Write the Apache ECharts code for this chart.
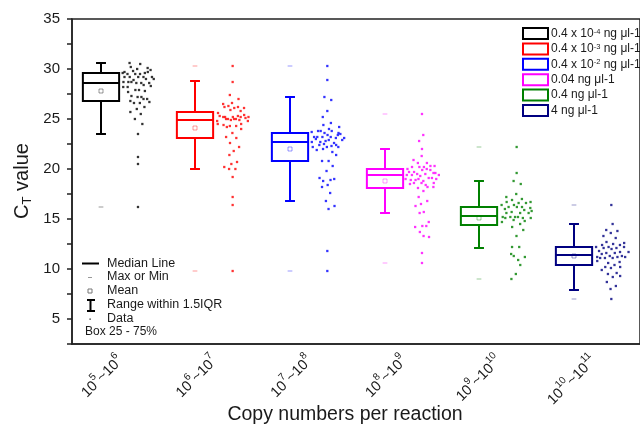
<!DOCTYPE html>
<html><head><meta charset="utf-8">
<script src="https://cdn.jsdelivr.net/npm/echarts@6/dist/echarts.min.js"></script>
<style>html,body{margin:0;padding:0;background:#fff}#c{width:640px;height:427px}</style>
</head><body><div id="c"></div>
<script>
const categories = ['10^5~10^6','10^6~10^7','10^7~10^8','10^8~10^9','10^9~10^10','10^10~10^11'];
const seriesNames = ['0.4 x 10-4 ng μl-1','0.4 x 10-3 ng μl-1','0.4 x 10-2 ng μl-1','0.04 ng μl-1','0.4 ng μl-1','4 ng μl-1'];
const legendLabels = ['0.4 x 10^-4 ng μl-1','0.4 x 10^-3 ng μl-1','0.4 x 10^-2 ng μl-1','0.04 ng μl-1','0.4 ng μl-1','4 ng μl-1'];
const colors = ['#000000','#ff0000','#0000ff','#ff00ff','#008000','#000080'];
const lightColors = ['rgba(0,0,0,0.4)','rgba(255,0,0,0.4)','rgba(0,0,255,0.4)','rgba(255,0,255,0.4)','rgba(0,128,0,0.4)','rgba(0,0,128,0.4)'];
const yTicks = [5,10,15,20,25,30,35];

// [lower whisker, Q1, median, Q3, upper whisker]
const boxStats = [
  [23.5, 26.8, 28.6, 29.6, 30.6],
  [20.0, 23.1, 24.9, 25.7, 28.8],
  [16.8, 20.8, 22.7, 23.6, 27.2],
  [15.6, 18.1, 19.4, 20.0, 22.0],
  [12.1, 14.4, 15.3, 16.2, 18.8],
  [7.9, 10.4, 11.4, 12.2, 14.5]
];
const means   = [27.8, 24.1, 22.0, 18.8, 15.1, 11.3];
const minVals = [16.2, 9.8, 9.8, 10.6, 9.0, 7.0];
const maxVals = [30.6, 30.3, 30.3, 25.5, 22.2, 16.4];

const data1 = [30.6,30.5,30.2,30.1,30.0,29.7,29.6,29.8,29.9,29.5,29.5,29.7,29.5,29.6,29.2,29.2,29.2,29.2,29.2,29.0,28.9,29.0,28.6,28.7,28.6,28.6,28.7,28.4,28.7,28.3,27.9,28.2,27.8,27.9,28.2,27.2,27.3,27.0,27.2,27.7,27.0,26.6,26.7,26.6,26.8,26.2,26.0,25.7,25.5,25.0,24.5,23.5,21.2,20.5,16.2];
const data2 = [30.3,28.7,27.4,27.0,26.6,26.5,26.2,26.3,26.1,26.1,26.2,25.8,25.9,25.6,25.3,25.2,25.1,25.2,25.3,25.2,25.0,25.2,25.0,25.2,25.4,24.9,24.8,24.9,25.0,24.8,25.0,24.4,24.5,24.3,24.5,24.3,24.2,24.0,23.6,23.2,23.1,22.6,22.2,21.8,21.4,20.7,20.5,20.2,20.0,20.0,19.2,17.2,16.4,9.8];
const data3 = [30.3,28.9,27.2,26.9,25.8,25.2,24.6,24.4,24.2,24.0,23.8,23.4,23.6,23.7,23.8,23.8,23.5,23.4,23.2,23.1,23.2,23.1,23.2,23.2,23.6,22.8,22.7,22.6,22.7,22.9,22.9,23.0,22.4,22.5,22.2,22.3,22.4,22.2,22.2,21.9,21.7,22.0,21.4,20.8,20.8,20.3,19.8,19.1,18.9,18.8,19.0,18.4,18.2,17.6,16.8,16.3,16.0,11.8,9.8];
const data4 = [25.5,23.4,22.8,22.0,21.3,20.9,20.6,20.6,20.3,20.2,20.2,20.3,20.2,20.0,20.0,19.7,19.6,19.9,19.7,19.9,19.5,19.4,19.5,19.4,19.6,19.3,19.4,19.1,18.9,19.0,18.8,18.9,19.1,19.0,19.0,18.4,18.6,18.6,18.6,18.5,18.2,18.1,18.2,17.8,17.2,16.8,16.5,16.3,15.7,15.6,14.7,14.3,14.2,14.3,13.7,13.2,13.3,11.6,10.6];
const data5 = [22.2,19.6,18.8,18.5,17.5,17.2,17.0,16.9,16.7,16.6,16.7,16.6,16.4,16.4,16.2,16.2,16.1,16.2,16.0,15.9,15.7,15.8,15.6,15.6,15.6,15.2,15.2,15.1,15.2,15.1,15.2,15.1,14.8,14.9,14.7,14.5,14.2,13.9,13.3,12.2,12.2,11.3,11.2,10.9,11.5,10.4,9.5,9.0];
const data6 = [16.4,14.5,13.9,13.8,13.6,13.3,13.1,12.7,12.6,12.5,12.4,12.4,12.2,12.2,12.1,12.1,12.2,12.0,11.8,11.7,11.6,11.7,11.6,11.5,11.3,11.3,11.2,11.2,11.1,11.2,11.1,11.1,10.7,10.6,10.8,10.4,10.2,10.2,10.1,9.9,9.6,9.5,9.3,9.2,8.7,8.3,8.0,7.0];
const allData = [data1, data2, data3, data4, data5, data6];

// layout constants (fractions of one category step)
const BOX_SHIFT = -0.197, PTS_SHIFT = 0.197, BOX_W = 0.383, CAP_W = 0.105, DASH_W = 0.05, SPREAD = 0.19;

function swarm(vals, center) {
  const dens = vals.map(v => vals.filter(w => Math.abs(w - v) <= 0.6).length);
  const dmax = Math.max.apply(null, dens);
  return vals.map((v, k) => {
    const f = dmax > 1 ? Math.max(0, (dens[k] - 1) / (dmax - 1)) : 0;
    const u = ((k * 0.6180339887) % 1) * 2 - 1;
    return [center + u * SPREAD * Math.pow(f, 0.4), v];
  });
}

function renderBox(ci) {
  return function (params, api) {
    const x = api.value(0);
    const unit = api.size([1, 0])[0];
    const bw = unit * BOX_W, cw = unit * CAP_W, dw = unit * DASH_W;
    const P = i => api.coord([x, api.value(i)]);
    const lo = P(1), q1 = P(2), md = P(3), q3 = P(4), hi = P(5), mean = P(6), mn = P(7), mx = P(8);
    const cx = Math.round(lo[0]);
    const c = colors[ci], lc = lightColors[ci];
    const ln = (x1, y1, x2, y2, col, w) => ({type: 'line', shape: {x1, y1, x2, y2}, style: {stroke: col, lineWidth: w}});
    return {type: 'group', children: [
      ln(cx, q3[1], cx, hi[1], c, 2),
      ln(cx - cw / 2, hi[1], cx + cw / 2, hi[1], c, 2),
      ln(cx, q1[1], cx, lo[1], c, 2),
      ln(cx - cw / 2, lo[1], cx + cw / 2, lo[1], c, 2),
      {type: 'rect', shape: {x: cx - bw / 2, y: q3[1], width: bw, height: q1[1] - q3[1]}, style: {fill: '#fff', stroke: c, lineWidth: 2}},
      ln(cx - bw / 2, md[1], cx + bw / 2, md[1], c, 2),
      {type: 'rect', shape: {x: cx - 2, y: mean[1] - 2, width: 4, height: 4}, style: {fill: 'none', stroke: lc, lineWidth: 1}},
      ln(cx - dw / 2, mn[1], cx + dw / 2, mn[1], lc, 1),
      ln(cx - dw / 2, mx[1], cx + dw / 2, mx[1], lc, 1)
    ]};
  };
}

const supRich = s => s.replace(/\^(-?\d+)/g, '{s|$1}');
const series = [];
seriesNames.forEach((name, i) => {
  series.push({
    type: 'custom', name, xAxisIndex: 1, yAxisIndex: 0,
    itemStyle: {color: '#fff', borderColor: colors[i], borderWidth: 2},
    renderItem: renderBox(i),
    encode: {x: 0, y: [1, 2, 3, 4, 5]},
    data: [[i + 1 + BOX_SHIFT].concat(boxStats[i], [means[i], minVals[i], maxVals[i]])],
    z: 2, silent: true
  });
});
seriesNames.forEach((name, i) => {
  series.push({
    type: 'scatter', name, xAxisIndex: 1, yAxisIndex: 0,
    symbol: 'rect', symbolSize: 2.3,
    itemStyle: {color: colors[i]},
    data: swarm(allData[i], i + 1 + PTS_SHIFT),
    z: 3, silent: true
  });
});

const FONT = 'Liberation Sans, Arial, sans-serif';
const TXT = '#1a1a1a';
const keyX = 107;
const key = [
  {type: 'line', shape: {x1: 82, y1: 263.5, x2: 99, y2: 263.5}, style: {stroke: '#000', lineWidth: 2}},
  {type: 'line', shape: {x1: 88, y1: 277.5, x2: 92, y2: 277.5}, style: {stroke: '#999', lineWidth: 1}},
  {type: 'rect', shape: {x: 88, y: 289, width: 4, height: 4}, style: {fill: 'none', stroke: '#777', lineWidth: 1}},
  {type: 'line', shape: {x1: 90.5, y1: 300, x2: 90.5, y2: 311}, style: {stroke: '#000', lineWidth: 2}},
  {type: 'line', shape: {x1: 87, y1: 300, x2: 95, y2: 300}, style: {stroke: '#000', lineWidth: 2}},
  {type: 'line', shape: {x1: 87, y1: 311, x2: 95, y2: 311}, style: {stroke: '#000', lineWidth: 2}},
  {type: 'rect', shape: {x: 89.5, y: 318.5, width: 1.2, height: 1.2}, style: {fill: '#000'}}
];
const keyTexts = [['Median Line', 263.5], ['Max or Min', 277], ['Mean', 291], ['Range within 1.5IQR', 305], ['Data', 319]];
keyTexts.forEach(t => key.push({type: 'text', x: keyX, y: t[1], style: {text: t[0], font: '12.5px ' + FONT, fill: TXT, verticalAlign: 'middle'}}));
key.push({type: 'text', x: 85, y: 332, style: {text: 'Box 25 - 75%', font: '12px ' + FONT, fill: TXT, verticalAlign: 'middle'}});
key.push({type: 'text', x: 345, y: 415, style: {text: 'Copy numbers per reaction', font: '19.5px ' + FONT, fill: TXT, align: 'center', verticalAlign: 'middle'}});
key.push({type: 'text', x: 22, y: 181, rotation: Math.PI / 2, style: {
  text: '{b|C}{t|T}{b| value}', fill: TXT, align: 'center', verticalAlign: 'middle',
  rich: {b: {fontSize: 20, fontFamily: FONT, lineHeight: 24, fill: TXT}, t: {fontSize: 13, fontFamily: FONT, lineHeight: 24, verticalAlign: 'bottom', fill: TXT}}
}});

const chart = echarts.init(document.getElementById('c'), null, {renderer: 'canvas'});
chart.setOption({
  animation: false,
  backgroundColor: '#fff',
  textStyle: {fontFamily: FONT},
  grid: {left: 72, top: 19, width: 580, height: 325, show: true, borderColor: '#222', borderWidth: 1.5, containLabel: false},
  legend: {
    orient: 'vertical', left: 522, top: 27, padding: 0, icon: 'rect', itemWidth: 25, itemHeight: 11, itemGap: 2.4,
    selectedMode: false,
    data: seriesNames.map((n, i) => ({name: n, itemStyle: {color: '#fff', borderColor: colors[i], borderWidth: 2}})),
    formatter: name => supRich(legendLabels[seriesNames.indexOf(name)]),
    textStyle: {fontSize: 12, color: TXT, fontFamily: FONT, lineHeight: 12, padding: [0, 0, 0, -2],
      rich: {s: {fontSize: 7.5, lineHeight: 12, verticalAlign: 'top', fontFamily: FONT, color: TXT}}}
  },
  xAxis: [
    {type: 'category', data: categories, boundaryGap: true, position: 'bottom',
      axisLine: {lineStyle: {color: '#222', width: 1.5}},
      axisTick: {alignWithLabel: true, length: 6, lineStyle: {color: '#222', width: 1.5}},
      axisLabel: {rotate: 45, margin: 13, color: TXT, fontSize: 14.5, interval: 0,
        formatter: v => v.replace(/\^(\d+)/g, '{s|$1}').replace(/^10/, '{n|10}').replace(/~10/, '{n|~10}'),
        rich: {n: {fontSize: 14.5, lineHeight: 19, verticalAlign: 'bottom', fontFamily: FONT, color: TXT},
               s: {fontSize: 10, lineHeight: 19, verticalAlign: 'top', fontFamily: FONT, color: TXT}}},
      splitLine: {show: false}},
    {type: 'value', min: 0.5, max: 6.5, show: false, splitLine: {show: false}}
  ],
  yAxis: {type: 'value', min: 2.5, max: 35, interval: 2.5,
    axisLine: {show: true, lineStyle: {color: '#222', width: 1.5}},
    axisTick: {show: true, length: 5, lineStyle: {color: '#222', width: 1.5}},
    axisLabel: {fontSize: 15, color: TXT, margin: 12, formatter: v => (yTicks.indexOf(v) >= 0 ? String(v) : '')},
    splitLine: {show: false}},
  graphic: key,
  series
});
</script></body></html>
